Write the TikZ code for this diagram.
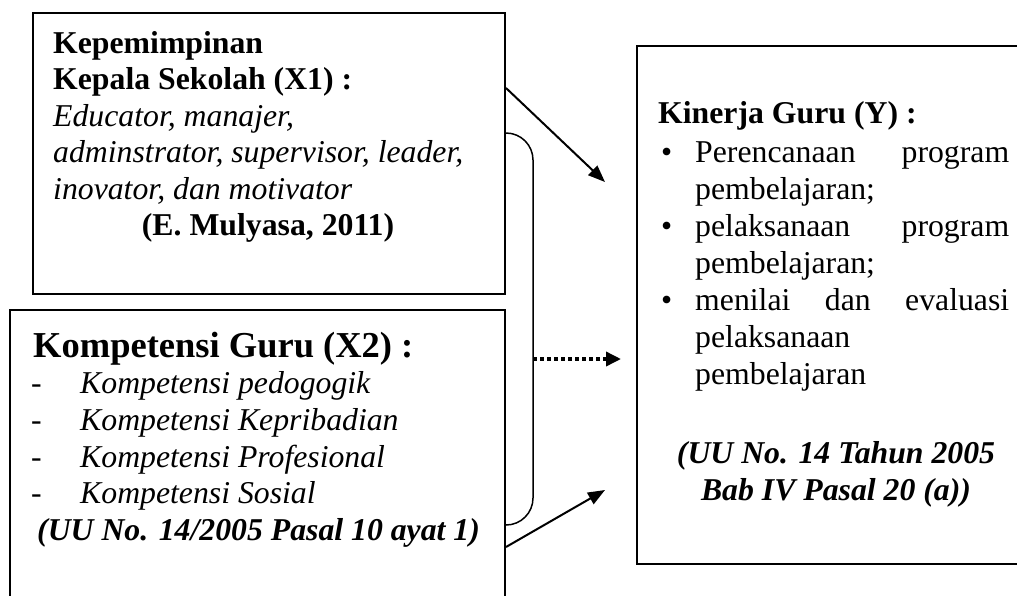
\documentclass[tikz,border=0pt]{standalone}
\usepackage{fontspec}
\setmainfont{Liberation Serif}
\usetikzlibrary{arrows.meta,calc}
\begin{document}
\begin{tikzpicture}[x=1pt,y=-1pt,
  box/.style={draw,line width=2pt,inner sep=0pt,anchor=north west},
  txt/.style={anchor=base west,inner sep=0pt,font=\fontsize{31.75pt}{37pt}\selectfont},
  ctxt/.style={txt,anchor=base},
  bigtxt/.style={anchor=base west,inner sep=0pt,font=\fontsize{36.5pt}{42pt}\selectfont\bfseries},
  conn/.style={line width=2pt,-{Triangle[length=17pt,width=13pt]}},
  dotconn/.style={line width=3.5pt,dash pattern=on 4pt off 3pt,-{Triangle[length=15pt,width=14pt]}},
  bracket/.style={line width=1.5pt,rounded corners=27pt}
]
\useasboundingbox (0,0) rectangle (1017,595);
\clip (0,0) rectangle (1017,595);

% boxes
\node[box,minimum width=472pt,minimum height=281pt] (x1) at (32,12) {};
\node[box,minimum width=495pt,minimum height=320pt] (x2) at (9,309) {};
\node[box,minimum width=400pt,minimum height=518pt] (y) at (636,45) {};

% X1 text
\node[txt,font=\fontsize{31.75pt}{37pt}\selectfont\bfseries] (t1) at (53,53) {Kepemimpinan};
\node[txt,font=\fontsize{31.75pt}{37pt}\selectfont\bfseries] (t2) at (53,89.5) {Kepala Sekolah (X1) :};
\node[txt,font=\fontsize{31.75pt}{37pt}\selectfont\itshape] (t3) at (53,126) {Educator, manajer,};
\node[txt,font=\fontsize{31.75pt}{37pt}\selectfont\itshape] (t4) at (53,162.5) {adminstrator, supervisor, leader,};
\node[txt,font=\fontsize{31.75pt}{37pt}\selectfont\itshape] (t5) at (53,199) {inovator, dan motivator};
\node[ctxt,font=\fontsize{31.75pt}{37pt}\selectfont\bfseries] (t6) at (268,235.5) {(E. Mulyasa, 2011)};

% X2 text
\node[bigtxt] (k0) at (33,357) {Kompetensi Guru (X2) :};
\node[txt] (d1) at (31,393) {-};
\node[txt,font=\fontsize{31.75pt}{37pt}\selectfont\itshape] (k1) at (80,393) {Kompetensi pedogogik};
\node[txt] (d2) at (31,430) {-};
\node[txt,font=\fontsize{31.75pt}{37pt}\selectfont\itshape] (k2) at (80,430) {Kompetensi Kepribadian};
\node[txt] (d3) at (31,467) {-};
\node[txt,font=\fontsize{31.75pt}{37pt}\selectfont\itshape] (k3) at (80,467) {Kompetensi Profesional};
\node[txt] (d4) at (31,503) {-};
\node[txt,font=\fontsize{31.75pt}{37pt}\selectfont\itshape] (k4) at (80,503) {Kompetensi Sosial};
\node[txt,font=\fontsize{31.75pt}{37pt}\selectfont\bfseries\itshape] (k5) at (37,540) {(UU No. 14/2005 Pasal 10 ayat 1)};

% Y text
\node[txt,font=\fontsize{31.75pt}{37pt}\selectfont\bfseries] (y0) at (658,123) {Kinerja Guru (Y) :};
\node[txt] (b1) at (661,162) {•};
\node[txt] (y1) at (695,162) {\makebox[314pt]{Perencanaan\hfill program}};
\node[txt] (y2) at (695,199) {pembelajaran;};
\node[txt] (b2) at (661,236) {•};
\node[txt] (y3) at (695,236) {\makebox[314pt]{pelaksanaan\hfill program}};
\node[txt] (y4) at (695,273) {pembelajaran;};
\node[txt] (b3) at (661,310) {•};
\node[txt] (y5) at (695,310) {\makebox[314pt]{menilai\hfill dan\hfill evaluasi}};
\node[txt] (y6) at (695,347) {pelaksanaan};
\node[txt] (y7) at (695,384) {pembelajaran};
\node[ctxt,font=\fontsize{31.75pt}{37pt}\selectfont\bfseries\itshape] (y8) at (836,463) {(UU No. 14 Tahun 2005};
\node[ctxt,font=\fontsize{31.75pt}{37pt}\selectfont\bfseries\itshape] (y9) at (836,500) {Bab IV Pasal 20 (a))};

% connectors
\coordinate (e1) at (605,182);
\coordinate (e2) at (621,359);
\coordinate (e3) at (605,490);
\draw[conn] ($(x1.north east)+(0,76)$) -- (e1);
\draw[bracket] ($(x1.north east)+(0,121)$) -- ++(27,0) -- ($(x2.north east)+(27,216)$) -- ($(x2.north east)+(0,216)$);
\draw[dotconn] ($(x2.north east)+(27,50)$) -- (e2);
\draw[conn] ($(x2.north east)+(0,238)$) -- (e3);
\end{tikzpicture}
\end{document}
